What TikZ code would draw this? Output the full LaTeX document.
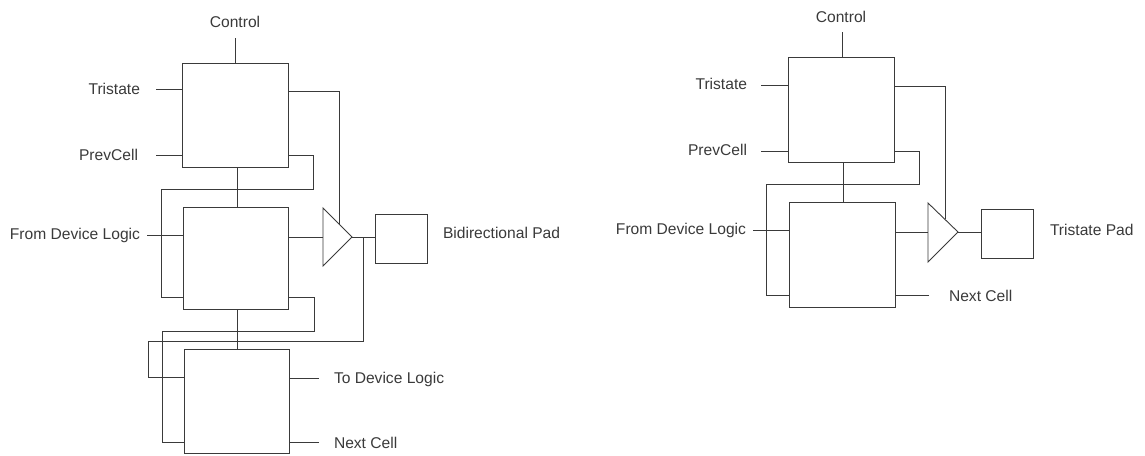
\documentclass[tikz,border=0pt]{standalone}
\usepackage{fontspec}
\setmainfont{Liberation Sans}
\definecolor{ink}{HTML}{3A3A3A}
\definecolor{txt}{HTML}{3A3A3A}
\tikzset{
  cell/.style={draw=ink,line width=0.9pt,fill=white,inner sep=0pt,outer sep=0pt},
  wire/.style={draw=ink,line width=0.9pt},
  lbl/.style={text=txt,font=\fontsize{15.6}{18}\selectfont,inner sep=0pt,outer sep=0pt},
}
\begin{document}
\begin{tikzpicture}[x=1pt,y=-1pt]
\useasboundingbox (0,0) rectangle (1145,455);
% ---------- left diagram ----------
\node[lbl] (lC) at (235,22) {Control};
\node[lbl,anchor=east] (lT) at (140,89) {Tristate};
\node[lbl,anchor=east] (lP) at (138,155) {PrevCell};
\node[lbl,anchor=east] (lF) at (140,235) {From Device Logic};
\node[lbl,anchor=west] (lB) at (443,233) {Bidirectional Pad};
\node[lbl,anchor=west] (lD) at (334,379) {To Device Logic};
\node[lbl,anchor=west] (lN) at (334,443) {Next Cell};
\coordinate (cT) at (235,38);
\coordinate (tT) at (156,89);
\coordinate (tP) at (156,155);
\coordinate (tF) at (147,235);
\coordinate (tD) at (319,378);
\coordinate (tN) at (319,442);
\coordinate (triA) at (323,208);
\coordinate (triB) at (323,266);
\coordinate (triC) at (352,237);
\coordinate (triE) at (339,224);
\node[cell,minimum width=106pt,minimum height=104pt] (A) at (235,115) {};
\node[cell,minimum width=105pt,minimum height=102pt] (B) at (235.5,258) {};
\node[cell,minimum width=105pt,minimum height=104pt] (Cc) at (236.5,401) {};
\node[cell,minimum width=52pt,minimum height=49pt] (P) at (401,238.5) {};
\draw[wire] (cT) -- (cT |- A.north);
\draw[wire] (tT) -- (tT -| A.west);
\draw[wire] (tP) -- (tP -| A.west);
\draw[wire] (tF) -- (tF -| B.west);
\draw[wire] (tD) -- (tD -| Cc.east);
\draw[wire] (tN) -- (tN -| Cc.east);
\draw[wire] (A.south -| 237,0) -- (B.north -| 237,0);
\draw[wire] (B.south -| 237,0) -- (Cc.north -| 237,0);
\draw[wire] (A.east |- 0,155) -- (313,155) -- (313,189) -- (161,189) -- (161,297) -- (B.west |- 0,297);
\draw[wire] (B.east |- 0,297) -- (314,297) -- (314,331) -- (162,331) -- (162,442) -- (Cc.west |- 0,442);
\draw[wire] (A.east |- 0,91) -- (339,91) -- (triE);
\draw[wire] (B.east |- triC) -- (triA |- triC);
\draw[wire,line join=miter] (triA) -- (triC) -- (triB) -- cycle;
\draw[wire] (triC) -- (triC -| P.west);
\draw[wire] (363,237) -- (363,341) -- (148,341) -- (148,377) -- (Cc.west |- 0,377);
% ---------- right diagram ----------
\node[lbl] (rC) at (841,17) {Control};
\node[lbl,anchor=east] (rT) at (747,84) {Tristate};
\node[lbl,anchor=east] (rP) at (747,150) {PrevCell};
\node[lbl,anchor=east] (rF) at (746,230) {From Device Logic};
\node[lbl,anchor=west] (rB) at (1050,230) {Tristate Pad};
\node[lbl,anchor=west] (rN) at (949,296) {Next Cell};
\coordinate (cTr) at (842,32);
\coordinate (tTr) at (761,85);
\coordinate (tPr) at (761,151);
\coordinate (tFr) at (753,230);
\coordinate (tNr) at (929,295);
\coordinate (triAr) at (928,203);
\coordinate (triBr) at (928,262);
\coordinate (triCr) at (958,232);
\coordinate (triEr) at (945,219);
\node[cell,minimum width=106pt,minimum height=105pt] (Ar) at (841,109.5) {};
\node[cell,minimum width=106pt,minimum height=105pt] (Br) at (842,254.5) {};
\node[cell,minimum width=52pt,minimum height=49pt] (Pr) at (1007,233.5) {};
\draw[wire] (cTr) -- (cTr |- Ar.north);
\draw[wire] (tTr) -- (tTr -| Ar.west);
\draw[wire] (tPr) -- (tPr -| Ar.west);
\draw[wire] (tFr) -- (tFr -| Br.west);
\draw[wire] (tNr) -- (tNr -| Br.east);
\draw[wire] (Ar.south -| 843,0) -- (Br.north -| 843,0);
\draw[wire] (Ar.east |- 0,151) -- (919,151) -- (919,184) -- (766,184) -- (766,295) -- (Br.west |- 0,295);
\draw[wire] (Ar.east |- 0,86) -- (945,86) -- (triEr);
\draw[wire] (Br.east |- triCr) -- (triAr |- triCr);
\draw[wire,line join=miter] (triAr) -- (triCr) -- (triBr) -- cycle;
\draw[wire] (triCr) -- (triCr -| Pr.west);
\end{tikzpicture}
\end{document}
